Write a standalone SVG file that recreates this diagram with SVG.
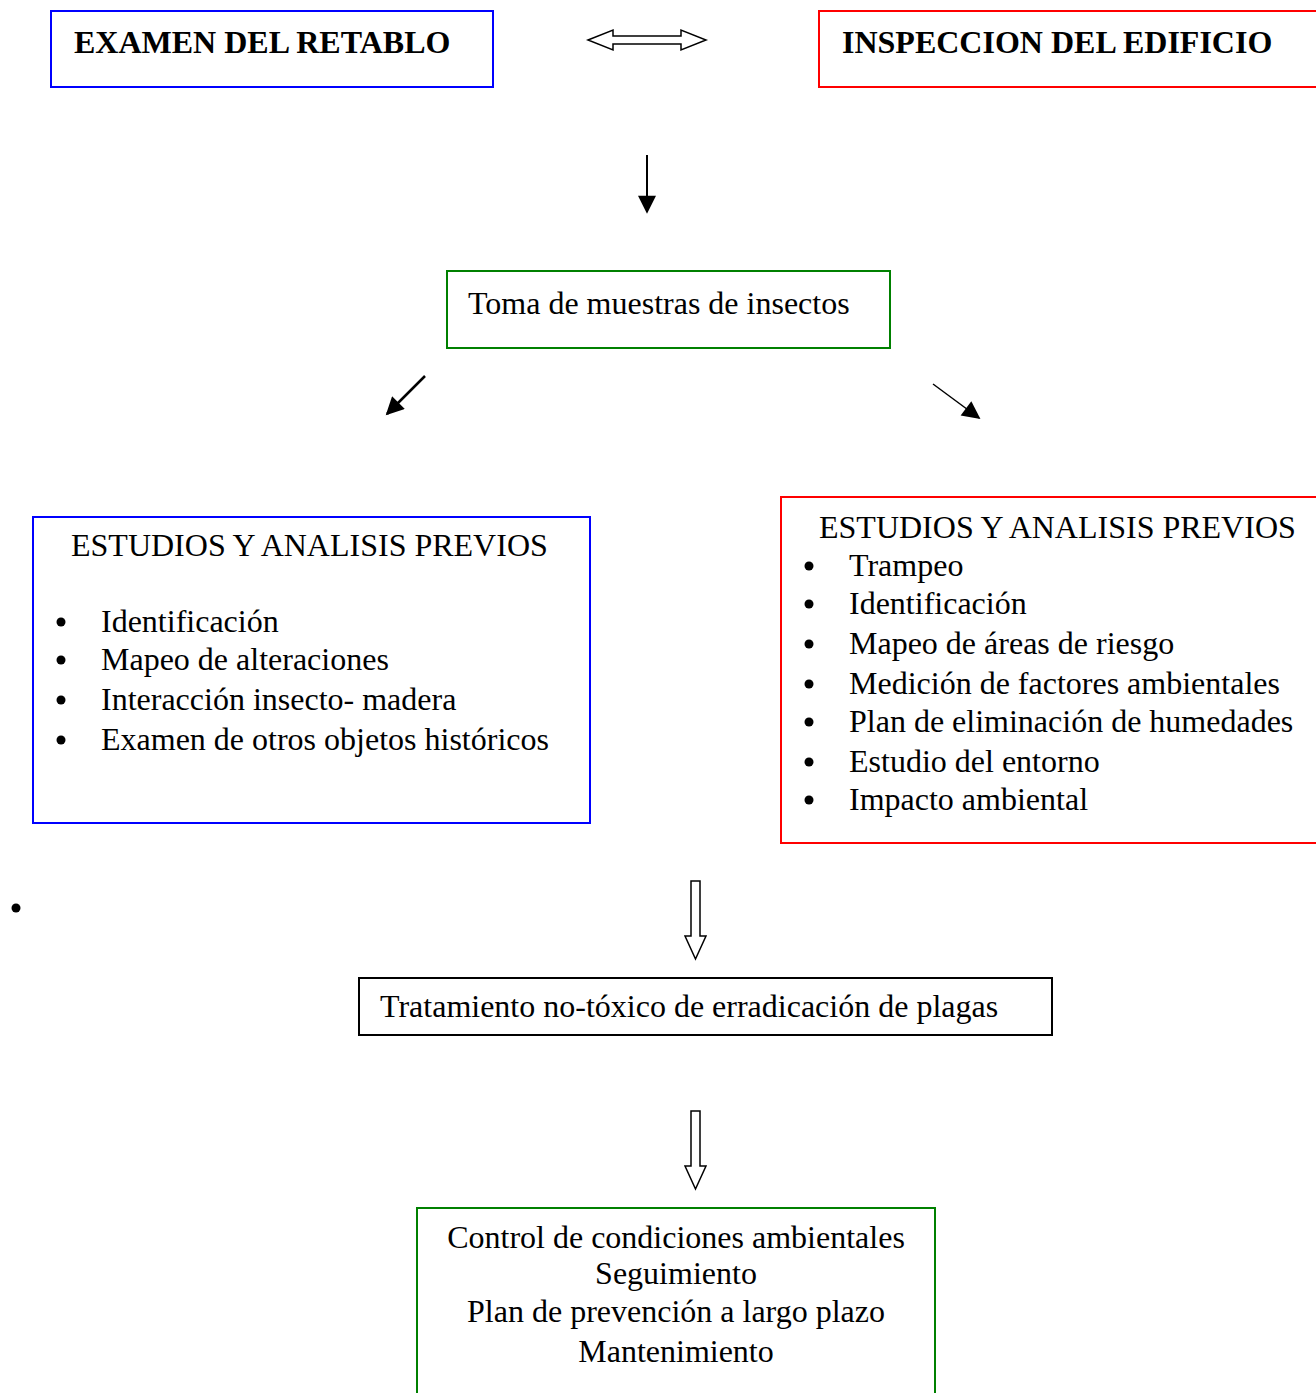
<svg xmlns="http://www.w3.org/2000/svg" width="1316" height="1393" viewBox="0 0 1316 1393">
<style>
text{font-family:"Liberation Serif","Times New Roman",serif;font-size:32px;fill:#000}
.b{font-weight:bold}
.box{fill:#fff;stroke-width:2}
.blue{stroke:#0000ff}
.red{stroke:#ff0000}
.green{stroke:#008000}
.black{stroke:#000}
.hol{fill:#fff;stroke:#000;stroke-width:1.5}
.ln{stroke:#000;fill:none}
</style>
<defs>
<marker id="ah2" viewBox="0 0 10 10" refX="9" refY="5" markerWidth="22" markerHeight="18" markerUnits="userSpaceOnUse" orient="auto"><path d="M0,0 L10,5 L0,10 z" fill="#000"/></marker>
</defs>
<rect width="1316" height="1393" fill="#fff"/>
<g id="connectors">
<path class="hol" d="M588,40 L613,30 L613,36 L681,36 L681,30 L706,40 L681,50 L681,44 L613,44 L613,50 Z"/>
<line class="ln" x1="647" y1="155" x2="647" y2="212" stroke-width="2" marker-end="url(#ah2)"/>
<line class="ln" x1="425" y1="376" x2="387" y2="414" stroke-width="2.5" marker-end="url(#ah2)"/>
<line class="ln" x1="933" y1="384" x2="979" y2="418" stroke-width="1.5" marker-end="url(#ah2)"/>
<path class="hol" d="M691,881 L700,881 L700,936 L706,936 L695.5,959 L685,936 L691,936 Z"/>
<path class="hol" d="M691,1111 L700,1111 L700,1166 L706,1166 L695.5,1189 L685,1166 L691,1166 Z"/>
</g>
<g id="examen">
<rect class="box blue" x="51" y="11" width="442" height="76"/>
<text class="b" x="74" y="53">EXAMEN DEL RETABLO</text>
</g>
<g id="inspeccion">
<rect class="box red" x="819" y="11" width="510" height="76"/>
<text class="b" x="842" y="53">INSPECCION DEL EDIFICIO</text>
</g>
<g id="toma">
<rect class="box green" x="447" y="271" width="443" height="77"/>
<text x="468" y="314">Toma de muestras de insectos</text>
</g>
<g id="estudios-retablo">
<rect class="box blue" x="33" y="517" width="557" height="306"/>
<text x="71" y="556">ESTUDIOS Y ANALISIS PREVIOS</text>
<g fill="#000"><circle cx="61" cy="622" r="4.5"/><circle cx="61" cy="660" r="4.5"/><circle cx="61" cy="700" r="4.5"/><circle cx="61" cy="740" r="4.5"/></g>
<text x="101" y="632">Identificación</text>
<text x="101" y="670">Mapeo de alteraciones</text>
<text x="101" y="710">Interacción insecto- madera</text>
<text x="101" y="750">Examen de otros objetos históricos</text>
</g>
<g id="estudios-edificio">
<rect class="box red" x="781" y="497" width="550" height="346"/>
<text x="819" y="538">ESTUDIOS Y ANALISIS PREVIOS</text>
<g fill="#000"><circle cx="809" cy="566" r="4.5"/><circle cx="809" cy="604" r="4.5"/><circle cx="809" cy="644" r="4.5"/><circle cx="809" cy="684" r="4.5"/><circle cx="809" cy="722" r="4.5"/><circle cx="809" cy="762" r="4.5"/><circle cx="809" cy="800" r="4.5"/></g>
<text x="849" y="576">Trampeo</text>
<text x="849" y="614">Identificación</text>
<text x="849" y="654">Mapeo de áreas de riesgo</text>
<text x="849" y="694">Medición de factores ambientales</text>
<text x="849" y="732">Plan de eliminación de humedades</text>
<text x="849" y="772">Estudio del entorno</text>
<text x="849" y="810">Impacto ambiental</text>
</g>
<circle cx="16" cy="908" r="4.5" fill="#000"/>
<g id="tratamiento">
<rect class="box black" x="359" y="978" width="693" height="57"/>
<text x="380" y="1017">Tratamiento no-tóxico de erradicación de plagas</text>
</g>
<g id="control">
<path d="M417,1400 L417,1208 L935,1208 L935,1400" fill="#fff" stroke="#008000" stroke-width="2"/>
<g text-anchor="middle">
<text x="676" y="1248">Control de condiciones ambientales</text>
<text x="676" y="1284">Seguimiento</text>
<text x="676" y="1322">Plan de prevención a largo plazo</text>
<text x="676" y="1362">Mantenimiento</text>
</g>
</g>
</svg>
